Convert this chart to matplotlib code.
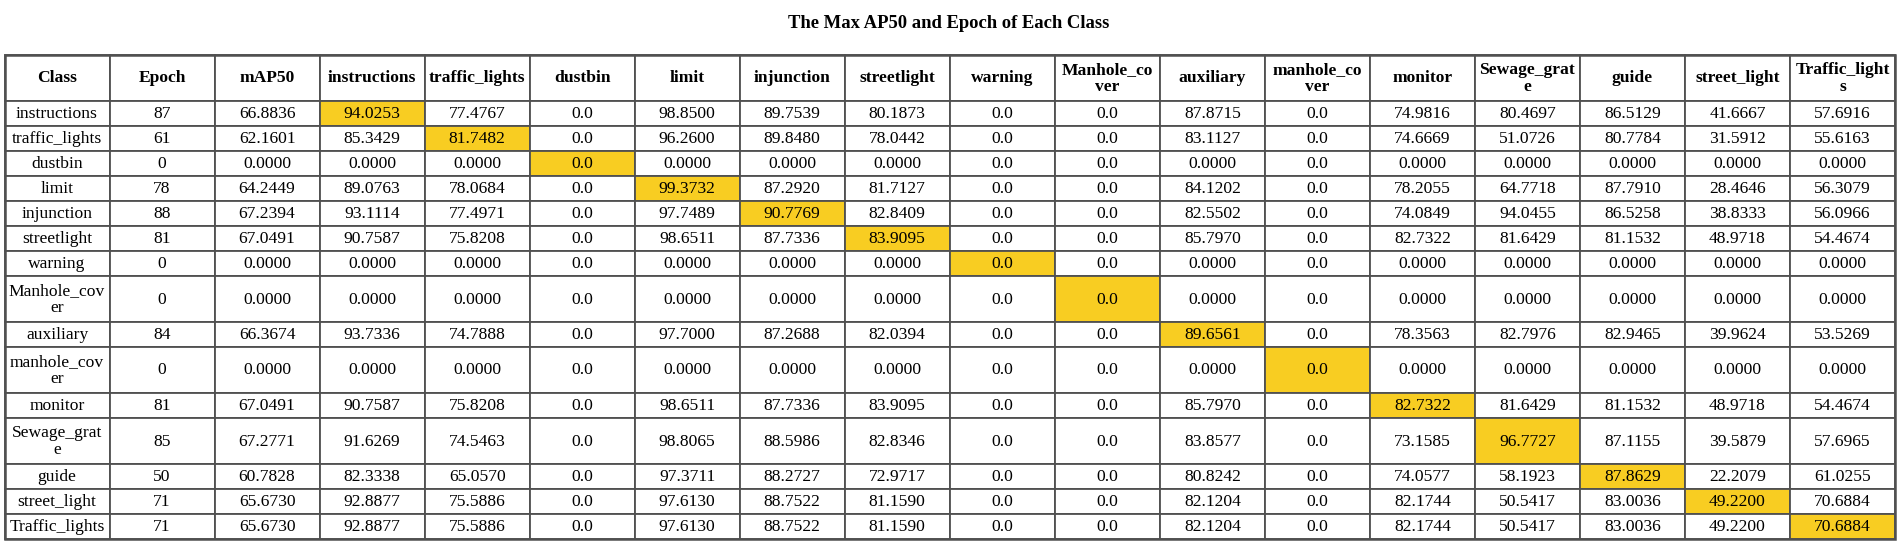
import matplotlib
matplotlib.use("Agg")
import matplotlib.pyplot as plt
from matplotlib.patches import Rectangle

# row classes (label text as rendered, wrapped where the cell was too narrow)
ROW_LABELS = ["instructions", "traffic_lights", "dustbin", "limit", "injunction",
              "streetlight", "warning", "Manhole_cov\ner", "auxiliary",
              "manhole_cov\ner", "monitor", "Sewage_grat\ne", "guide",
              "street_light", "Traffic_lights"]
COL_LABELS = ["Class", "Epoch", "mAP50", "instructions", "traffic_lights", "dustbin",
              "limit", "injunction", "streetlight", "warning", "Manhole_co\nver",
              "auxiliary", "manhole_co\nver", "monitor", "Sewage_grat\ne", "guide",
              "street_light", "Traffic_light\ns"]

epoch = [87, 61, 0, 78, 88, 81, 0, 0, 84, 0, 81, 85, 50, 71, 71]
map50 = [66.8836, 62.1601, 0, 64.2449, 67.2394, 67.0491, 0, 0, 66.3674, 0,
         67.0491, 67.2771, 60.7828, 65.6730, 65.6730]

ap_instructions = [94.0253, 85.3429, 0, 89.0763, 93.1114, 90.7587, 0, 0, 93.7336, 0,
                   90.7587, 91.6269, 82.3338, 92.8877, 92.8877]
ap_traffic_lights = [77.4767, 81.7482, 0, 78.0684, 77.4971, 75.8208, 0, 0, 74.7888, 0,
                     75.8208, 74.5463, 65.0570, 75.5886, 75.5886]
ap_dustbin = [0.0] * 15
ap_limit = [98.8500, 96.2600, 0, 99.3732, 97.7489, 98.6511, 0, 0, 97.7000, 0,
            98.6511, 98.8065, 97.3711, 97.6130, 97.6130]
ap_injunction = [89.7539, 89.8480, 0, 87.2920, 90.7769, 87.7336, 0, 0, 87.2688, 0,
                 87.7336, 88.5986, 88.2727, 88.7522, 88.7522]
ap_streetlight = [80.1873, 78.0442, 0, 81.7127, 82.8409, 83.9095, 0, 0, 82.0394, 0,
                  83.9095, 82.8346, 72.9717, 81.1590, 81.1590]
ap_warning = [0.0] * 15
ap_Manhole_cover = [0.0] * 15
ap_auxiliary = [87.8715, 83.1127, 0, 84.1202, 82.5502, 85.7970, 0, 0, 89.6561, 0,
                85.7970, 83.8577, 80.8242, 82.1204, 82.1204]
ap_manhole_cover = [0.0] * 15
ap_monitor = [74.9816, 74.6669, 0, 78.2055, 74.0849, 82.7322, 0, 0, 78.3563, 0,
              82.7322, 73.1585, 74.0577, 82.1744, 82.1744]
ap_Sewage_grate = [80.4697, 51.0726, 0, 64.7718, 94.0455, 81.6429, 0, 0, 82.7976, 0,
                   81.6429, 96.7727, 58.1923, 50.5417, 50.5417]
ap_guide = [86.5129, 80.7784, 0, 87.7910, 86.5258, 81.1532, 0, 0, 82.9465, 0,
            81.1532, 87.1155, 87.8629, 83.0036, 83.0036]
ap_street_light = [41.6667, 31.5912, 0, 28.4646, 38.8333, 48.9718, 0, 0, 39.9624, 0,
                   48.9718, 39.5879, 22.2079, 49.2200, 49.2200]
ap_Traffic_lights = [57.6916, 55.6163, 0, 56.3079, 56.0966, 54.4674, 0, 0, 53.5269, 0,
                     54.4674, 57.6965, 61.0255, 70.6884, 70.6884]

AP_COLS = [ap_instructions, ap_traffic_lights, ap_dustbin, ap_limit, ap_injunction,
           ap_streetlight, ap_warning, ap_Manhole_cover, ap_auxiliary, ap_manhole_cover,
           ap_monitor, ap_Sewage_grate, ap_guide, ap_street_light, ap_Traffic_lights]

HILITE = "#F8CD22"
EDGE = "#505050"
FONT = "Liberation Serif"

W, H = 1897, 551
fig = plt.figure(figsize=(W / 100, H / 100), dpi=100)
ax = fig.add_axes([0, 0, 1, 1])
ax.set_xlim(0, W)
ax.set_ylim(H, 0)
ax.axis("off")

# layout in pixel units
x0, x1 = 4.5, 1895.0
y0 = 55.0
col_w = (x1 - x0) / len(COL_LABELS)
single_h, double_h = 25.0, 46.0
fs = 12.6


def fmt(v, all_zero):
    return "0.0" if all_zero else f"{v:.4f}"


def row_h(label):
    return double_h if "\n" in label else single_h


def cell(xi, y, h, txt, fill="white", bold=False):
    x = x0 + xi * col_w
    ax.add_patch(Rectangle((x, y), col_w, h, facecolor=fill, edgecolor=EDGE, lw=1.3))
    ax.text(x + col_w / 2, y + h / 2 + 0.5, txt, ha="center", va="center",
            fontsize=fs, family=FONT, fontweight="bold" if bold else "normal",
            linespacing=1.05, color="black")


# header
for j, lab in enumerate(COL_LABELS):
    cell(j, y0, double_h, lab, bold=True)

y = y0 + double_h
for i, lab in enumerate(ROW_LABELS):
    h = row_h(lab)
    cell(0, y, h, lab)
    cell(1, y, h, str(epoch[i]))
    cell(2, y, h, f"{map50[i]:.4f}")
    for k, col in enumerate(AP_COLS):
        all_zero = all(v == 0 for v in col)
        fill = HILITE if k == i else "white"
        cell(3 + k, y, h, fmt(col[i], all_zero), fill=fill)
    y += h

# outer border
ax.add_patch(Rectangle((x0, y0), x1 - x0, y - y0, fill=False, edgecolor=EDGE, lw=1.8))

ax.text(W / 2, 24, "The Max AP50 and Epoch of Each Class", ha="center", va="center",
        fontsize=13.4, family=FONT, fontweight="bold")

fig.savefig("out.png", dpi=100)
